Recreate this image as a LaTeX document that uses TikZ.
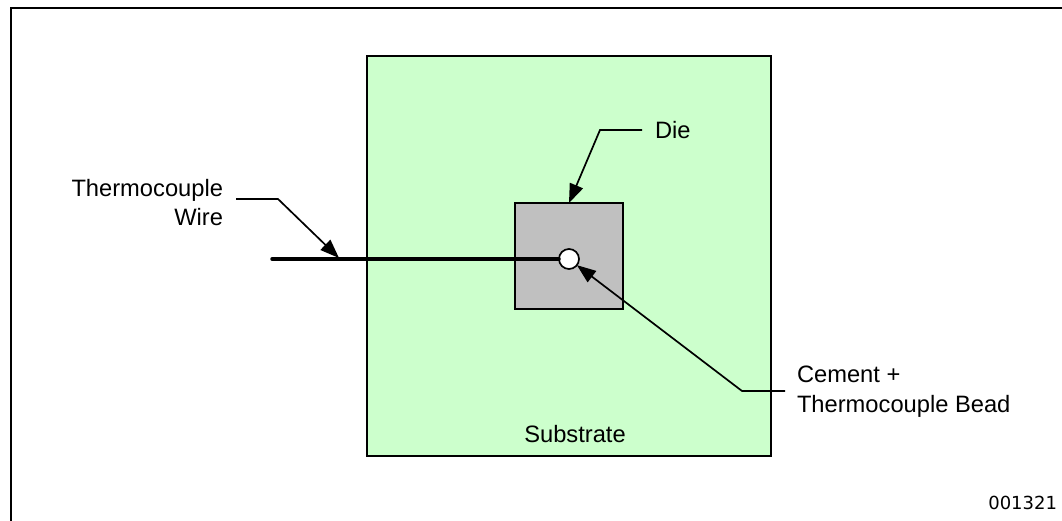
\documentclass[tikz,border=0pt]{standalone}
\usepackage{fontspec}
\setmainfont{Liberation Sans}
\newfontfamily\codefont{DejaVu Sans}
\usetikzlibrary{arrows.meta}
\definecolor{subgreen}{RGB}{204,255,204}
\definecolor{diegray}{RGB}{192,192,192}
\tikzset{
  box/.style={draw=black,line width=1.7pt,anchor=north west,inner sep=0pt,outer sep=0pt},
  leader/.style={draw=black,line width=1.7pt,-{Triangle[length=19pt,width=14pt]},line join=miter},
  lbl/.style={inner sep=0pt,outer sep=0pt,font=\fontsize{23.7}{29.5}\selectfont,text=black},
}
\begin{document}
\begin{tikzpicture}[x=1pt,y=-1pt]
\useasboundingbox (0,0) rectangle (1062,521);
\fill[white] (0,0) rectangle (1062,521);
\coordinate (frameBL) at (11,521);
\coordinate (frameTL) at (11,8);
\coordinate (frameTR) at (1062,8);
\draw[line width=2pt,line cap=butt] (frameBL) -- (frameTL) -- (frameTR);
\node[box,fill=subgreen,minimum width=404pt,minimum height=400pt] (substrate) at (367,56) {};
\node[box,fill=diegray,minimum width=108pt,minimum height=106pt] (die) at (515,203) {};
\coordinate (wirestart) at (272,259);
\node[circle,draw=black,fill=white,line width=1.7pt,minimum size=20pt,inner sep=0pt,outer sep=0pt] (bead) at (569,259) {};
\draw[line width=3.5pt,line cap=round] (wirestart) -- (bead.west);
\coordinate (wiretip) at (339,258);
\node[lbl,anchor=south east,align=right] (thermo) at (223,226) {Thermocouple\\Wire};
\node[lbl,anchor=west] (dielabel) at (655,130) {Die};
\node[lbl,anchor=north west,align=left] (cement) at (797,366) {Cement +\\Thermocouple Bead};
\node[lbl,anchor=south] (sublabel) at (575,443) {Substrate};
\node[inner sep=0pt,outer sep=0pt,anchor=east,font=\fontsize{18}{22}\selectfont\codefont] (code) at (1057,503) {001321};
\coordinate (a1) at (236,199);
\coordinate (a2) at (278,199);
\draw[leader] (a1) -- (a2) -- (wiretip);
\coordinate (b1) at (642,130);
\coordinate (b2) at (600,130);
\draw[leader] (b1) -- (b2) -- (die.north);
\coordinate (c1) at (785,391);
\coordinate (c2) at (742,391);
\draw[leader] (c1) -- (c2) -- (bead.-38);
\end{tikzpicture}
\end{document}
